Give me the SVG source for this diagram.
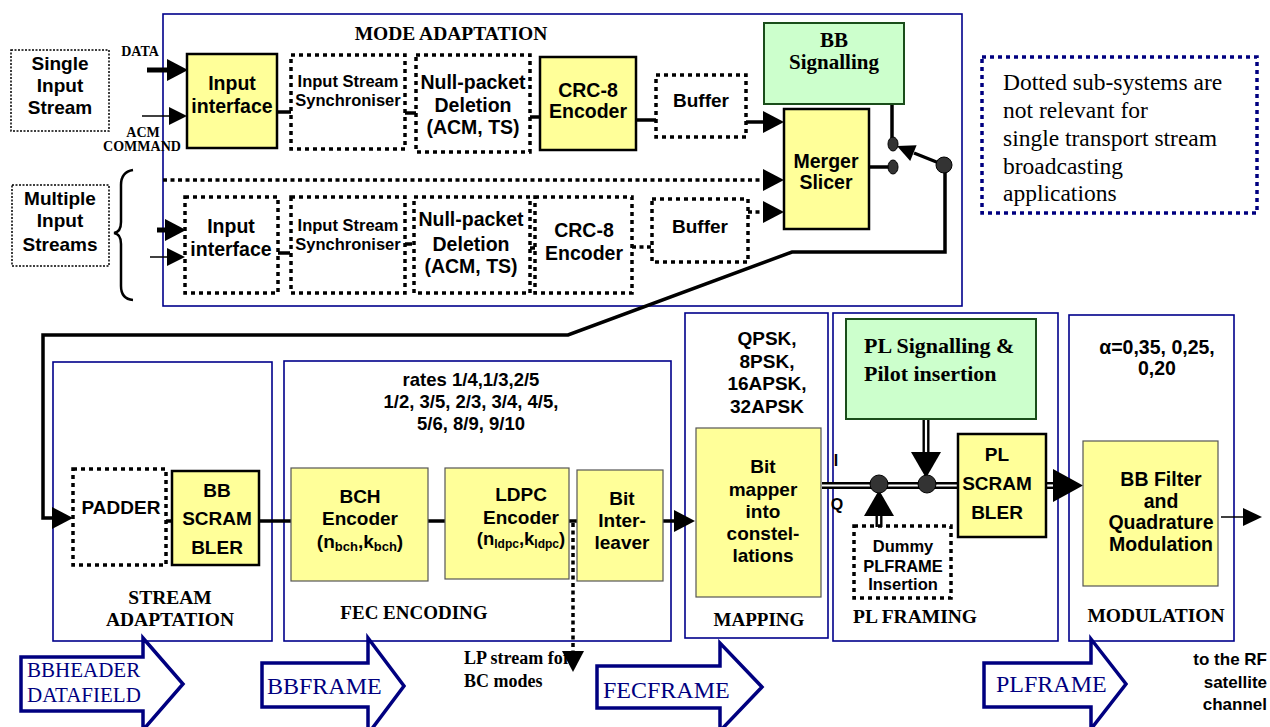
<svg xmlns="http://www.w3.org/2000/svg" width="1270" height="727" viewBox="0 0 1270 727">
<style>
.stage{fill:none;stroke:#00008B;stroke-width:1.6}
.dbox{fill:none;stroke:#000;stroke-width:3.5;stroke-dasharray:4 4}
.sbox{fill:#fff;stroke:#000;stroke-width:1.5;stroke-dasharray:2 1.5}
.yb{fill:#FFFF99;stroke:#000;stroke-width:2.5}
.yt{fill:#FFFF99;stroke:#555;stroke-width:1.2}
.gb{fill:#CCFFCC;stroke:#1a4d1a;stroke-width:2}
.t{font-family:"Liberation Sans",Arial,sans-serif;font-weight:bold;text-anchor:middle;fill:#000}
.e{text-anchor:end}
.s{font-family:"Liberation Serif","Times New Roman",serif;font-weight:bold;fill:#000}
.m{text-anchor:middle}
.big{fill:#fff;stroke:#000080;stroke-width:3.5}
.bigt{font-family:"Liberation Serif","Times New Roman",serif;fill:#000080}
.ln{fill:none;stroke:#000;stroke-width:3.5}
.thin{fill:none;stroke:#000;stroke-width:1.5}
.dl{fill:none;stroke:#000;stroke-width:3.5;stroke-dasharray:4 3.5}
.jd{fill:#333;stroke:#000;stroke-width:1}
</style>
<defs>
<marker id="ah" markerUnits="userSpaceOnUse" markerWidth="21" markerHeight="22" refX="0" refY="11" orient="auto"><path d="M0,0 L21,11 L0,22 z" fill="#000"/></marker>
<marker id="ahs" markerUnits="userSpaceOnUse" markerWidth="18" markerHeight="18" refX="0" refY="9" orient="auto"><path d="M0,0 L18,9 L0,18 z" fill="#000"/></marker>
</defs>
<rect width="1270" height="727" fill="#fff"/>

<g id="stages">
<rect class="stage" x="163" y="14" width="799" height="292"/>
<text class="s m" x="451" y="40" font-size="19.5">MODE ADAPTATION</text>
<rect class="stage" x="53" y="362" width="219" height="279"/>
<text class="s m" x="170" y="604" font-size="19.5">STREAM</text>
<text class="s m" x="170" y="626" font-size="19.5">ADAPTATION</text>
<rect class="stage" x="284" y="361" width="387" height="280"/>
<text class="s m" x="414" y="619" font-size="19">FEC ENCODING</text>
<text class="t" x="471" y="386" font-size="18.5">rates 1/4,1/3,2/5</text>
<text class="t" x="471" y="408" font-size="18.5">1/2, 3/5, 2/3, 3/4, 4/5,</text>
<text class="t" x="471" y="430" font-size="18.5">5/6, 8/9, 9/10</text>
<rect class="stage" x="685" y="313" width="143" height="325"/>
<text class="s m" x="759" y="626" font-size="19">MAPPING</text>
<text class="t" x="767" y="345" font-size="19">QPSK,</text>
<text class="t" x="767" y="368" font-size="19">8PSK,</text>
<text class="t" x="767" y="390" font-size="19">16APSK,</text>
<text class="t" x="767" y="413" font-size="19">32APSK</text>
<rect class="stage" x="833" y="313" width="225" height="328"/>
<text class="s m" x="915" y="623" font-size="19.5">PL FRAMING</text>
<rect class="stage" x="1069" y="315" width="165" height="326"/>
<text class="s m" x="1156" y="622" font-size="19.5">MODULATION</text>
<text class="t" x="1157" y="354" font-size="19.5">α=0,35, 0,25,</text>
<text class="t" x="1157" y="375" font-size="19.5">0,20</text>
</g>

<g id="single-input">
<rect class="sbox" x="11" y="50" width="98" height="81"/>
<text class="t" x="60" y="70" font-size="19">Single</text>
<text class="t" x="60" y="92" font-size="19">Input</text>
<text class="t" x="60" y="114" font-size="19">Stream</text>
</g>
<g id="multiple-input">
<rect class="sbox" x="12" y="185" width="97" height="81"/>
<text class="t" x="60" y="205" font-size="19">Multiple</text>
<text class="t" x="60" y="227" font-size="19">Input</text>
<text class="t" x="60" y="251" font-size="19">Streams</text>
<path d="M133,170 Q121,172 121,185 L121,222 Q121,232 114,233 Q121,234 121,244 L121,286 Q121,299 133,300" fill="none" stroke="#000" stroke-width="2.5"/>
</g>

<g id="labels-in">
<text class="s m" x="140" y="56" font-size="14">DATA</text>
<text class="s m" x="143" y="137" font-size="14">ACM</text>
<text class="s m" x="142" y="151" font-size="14">COMMAND</text>
</g>

<g id="note">
<rect x="982" y="57" width="275" height="156" fill="none" stroke="#000080" stroke-width="3.5" stroke-dasharray="4 4"/>
<text font-family="'Liberation Serif','Times New Roman',serif" font-size="23.5" fill="#000">
<tspan x="1003" y="90">Dotted sub-systems are</tspan>
<tspan x="1003" y="118">not relevant for</tspan>
<tspan x="1003" y="146">single transport stream</tspan>
<tspan x="1003" y="174">broadcasting</tspan>
<tspan x="1003" y="201">applications</tspan>
</text>
</g>

<g id="lp-label">
<text class="s" x="464" y="664" font-size="18">LP stream for</text>
<text class="s" x="464" y="687" font-size="18">BC modes</text>
</g>

<g id="connectors">
<line x1="147" y1="70" x2="167" y2="70" stroke="#000" stroke-width="5" marker-end="url(#ah)"/>
<line class="thin" x1="142" y1="116" x2="169" y2="116" marker-end="url(#ahs)"/>
<line x1="157" y1="230" x2="165" y2="230" stroke="#000" stroke-width="5" marker-end="url(#ah)"/>
<line class="thin" x1="150" y1="257" x2="167" y2="257" marker-end="url(#ahs)"/>
<line class="ln" x1="277" y1="112" x2="291" y2="112" stroke-width="2.5"/>
<line class="ln" x1="405" y1="113" x2="416" y2="113" stroke-width="2.5"/>
<line class="ln" x1="530" y1="117" x2="540" y2="117" stroke-width="2.5"/>
<line class="ln" x1="636" y1="120" x2="656" y2="120" stroke-width="2.5"/>
<line class="ln" x1="746" y1="122" x2="763" y2="122" marker-end="url(#ah)"/>
<line class="dl" x1="163" y1="180" x2="763" y2="180" marker-end="url(#ah)"/>
<line class="ln" x1="278" y1="253" x2="290" y2="253" stroke-width="2.5"/>
<line class="ln" x1="405" y1="244" x2="412" y2="244" stroke-width="2.5"/>
<line class="ln" x1="530" y1="248" x2="535" y2="248" stroke-width="2.5"/>
<line class="dl" x1="632" y1="247" x2="652" y2="247" stroke-dasharray="3 3"/>
<line class="dl" x1="748" y1="212" x2="763" y2="212" stroke-dasharray="3 3" marker-end="url(#ah)"/>
<line class="ln" x1="892" y1="104" x2="892" y2="138" stroke-width="3"/>
<line class="ln" x1="869" y1="167" x2="889" y2="167" stroke-width="3"/>
<line class="ln" x1="944" y1="165" x2="914" y2="153" stroke-width="3"/>
<path d="M897,146 L916.6,145.3 L910.2,161 z" fill="#000"/>
<path class="ln" d="M945,165 V252 H792 L568,335 H43 V518 H52" marker-end="url(#ah)"/>
<ellipse class="jd" cx="893" cy="144" rx="5" ry="7"/>
<ellipse class="jd" cx="893" cy="167" rx="5" ry="7"/>
<circle class="jd" cx="944" cy="165" r="8"/>
<line class="ln" x1="166" y1="521" x2="172" y2="521" stroke-width="4"/>
<line class="ln" x1="259" y1="521" x2="291" y2="521" stroke-width="4"/>
<line class="ln" x1="428" y1="521" x2="445" y2="521" stroke-width="4"/>
<line class="ln" x1="569" y1="521" x2="577" y2="521" stroke-width="4"/>
<line class="ln" x1="663" y1="521" x2="674" y2="521" stroke-width="4" marker-end="url(#ah)"/>
<line class="dl" x1="573" y1="523" x2="573" y2="651" stroke-dasharray="3 3" marker-end="url(#ah)"/>
<line x1="822" y1="485.5" x2="958" y2="485.5" stroke="#000" stroke-width="7"/>
<line x1="822" y1="485.5" x2="958" y2="485.5" stroke="#fff" stroke-width="2.2"/>
<line x1="1046" y1="485.5" x2="1055" y2="485.5" stroke="#000" stroke-width="7"/>
<line x1="1046" y1="485.5" x2="1054" y2="485.5" stroke="#fff" stroke-width="2.2"/>
<path d="M1053,469 L1083,485.5 L1053,502 z" fill="#000"/>
<line x1="926" y1="419" x2="926" y2="454" stroke="#000" stroke-width="7"/>
<line x1="926" y1="419" x2="926" y2="452" stroke="#fff" stroke-width="2.2"/>
<path d="M911,452 L941,452 L926,478 z" fill="#000"/>
<line x1="879" y1="514" x2="879" y2="527" stroke="#000" stroke-width="7"/>
<line x1="879" y1="516" x2="879" y2="527" stroke="#fff" stroke-width="2.2"/>
<path d="M864,516 L894,516 L879,490 z" fill="#000"/>
<circle class="jd" cx="879" cy="484" r="9"/>
<circle class="jd" cx="927" cy="484" r="9"/>
<text class="t" x="836" y="466" font-size="16">I</text>
<text class="t" x="837" y="510" font-size="16">Q</text>
<line class="thin" x1="1221" y1="517" x2="1244" y2="517"/>
<path d="M1243,508 L1262,517 L1243,526 z" fill="#000"/>
</g>

<g id="input-interface">
<rect class="yb" x="187" y="54" width="90" height="94"/>
<text class="t" x="232" y="90" font-size="19.5">Input</text>
<text class="t" x="232" y="113" font-size="19.5">interface</text>
</g>
<g id="input-stream-sync">
<rect class="dbox" x="291" y="55" width="114" height="94"/>
<text class="t" x="348" y="87" font-size="16.5">Input Stream</text>
<text class="t" x="348" y="106" font-size="16.5">Synchroniser</text>
</g>
<g id="null-packet">
<rect class="dbox" x="416" y="55" width="114" height="97"/>
<text class="t" x="473" y="89" font-size="19.5">Null-packet</text>
<text class="t" x="473" y="112" font-size="19.5">Deletion</text>
<text class="t" x="473" y="134" font-size="19.5">(ACM, TS)</text>
</g>
<g id="crc8">
<rect class="yb" x="540" y="57" width="96" height="93"/>
<text class="t" x="588" y="97" font-size="19.5">CRC-8</text>
<text class="t" x="588" y="118" font-size="19.5">Encoder</text>
</g>
<g id="buffer">
<rect class="dbox" x="656" y="75" width="90" height="62"/>
<text class="t" x="701" y="107" font-size="19">Buffer</text>
</g>
<g id="input-interface-2">
<rect class="dbox" x="185" y="197" width="93" height="96"/>
<text class="t" x="231" y="233" font-size="19.5">Input</text>
<text class="t" x="231" y="256" font-size="19.5">interface</text>
</g>
<g id="input-stream-sync-2">
<rect class="dbox" x="291" y="197" width="114" height="96"/>
<text class="t" x="348" y="231" font-size="16.5">Input Stream</text>
<text class="t" x="348" y="250" font-size="16.5">Synchroniser</text>
</g>
<g id="null-packet-2">
<rect class="dbox" x="414" y="197" width="116" height="96"/>
<text class="t" x="471" y="226" font-size="19.5">Null-packet</text>
<text class="t" x="471" y="251" font-size="19.5">Deletion</text>
<text class="t" x="471" y="273" font-size="19.5">(ACM, TS)</text>
</g>
<g id="crc8-2">
<rect class="dbox" x="535" y="197" width="97" height="96"/>
<text class="t" x="584" y="237" font-size="19.5">CRC-8</text>
<text class="t" x="584" y="260" font-size="19.5">Encoder</text>
</g>
<g id="buffer-2">
<rect class="dbox" x="652" y="199" width="96" height="63"/>
<text class="t" x="700" y="233" font-size="19">Buffer</text>
</g>
<g id="bb-signalling">
<rect class="gb" x="764" y="23" width="140" height="81"/>
<text class="s m" x="834" y="47" font-size="21">BB</text>
<text class="s m" x="834" y="69" font-size="21">Signalling</text>
</g>
<g id="merger-slicer">
<rect class="yb" x="784" y="109" width="85" height="120"/>
<text class="t" x="826" y="168" font-size="19.5">Merger</text>
<text class="t" x="826" y="189" font-size="19.5">Slicer</text>
</g>

<g id="padder">
<rect class="dbox" x="73" y="469" width="93" height="96"/>
<text class="t" x="121" y="514" font-size="19">PADDER</text>
</g>
<g id="bb-scrambler">
<rect class="yb" x="172" y="471" width="87" height="94"/>
<text class="t" x="217" y="497" font-size="19">BB</text>
<text class="t" x="217" y="525" font-size="19">SCRAM</text>
<text class="t" x="217" y="554" font-size="19">BLER</text>
</g>
<g id="bch">
<rect class="yt" x="291" y="468" width="137" height="113"/>
<text class="t" x="360" y="503" font-size="19">BCH</text>
<text class="t" x="360" y="525" font-size="19">Encoder</text>
<text class="t" x="360" y="548" font-size="19">(n<tspan font-size="13" dy="3">bch</tspan><tspan dy="-3">,k</tspan><tspan font-size="13" dy="3">bch</tspan><tspan dy="-3">)</tspan></text>
</g>
<g id="ldpc">
<rect class="yt" x="445" y="468" width="124" height="111"/>
<text class="t" x="521" y="501" font-size="19">LDPC</text>
<text class="t" x="521" y="524" font-size="19">Encoder</text>
<text class="t" x="521" y="545" font-size="18.5">(n<tspan font-size="12" dy="3">ldpc</tspan><tspan dy="-3">,k</tspan><tspan font-size="12" dy="3">ldpc</tspan><tspan dy="-3">)</tspan></text>
</g>
<g id="bit-interleaver">
<rect class="yt" x="577" y="470" width="86" height="111"/>
<text class="t" x="622" y="505" font-size="19">Bit</text>
<text class="t" x="622" y="527" font-size="19">Inter-</text>
<text class="t" x="622" y="549" font-size="19">leaver</text>
</g>
<g id="bit-mapper">
<rect class="yt" x="696" y="428" width="125" height="169"/>
<text class="t" x="763" y="473" font-size="19">Bit</text>
<text class="t" x="763" y="496" font-size="19">mapper</text>
<text class="t" x="763" y="518" font-size="19">into</text>
<text class="t" x="763" y="540" font-size="19">constel-</text>
<text class="t" x="763" y="562" font-size="19">lations</text>
</g>
<g id="pl-signalling">
<rect class="gb" x="846" y="319" width="190" height="100"/>
<text class="s" x="864" y="353" font-size="22">PL Signalling &amp;</text>
<text class="s" x="864" y="381" font-size="22">Pilot insertion</text>
</g>
<g id="dummy-plframe">
<rect class="dbox" x="854" y="526" width="97" height="72"/>
<text class="t" x="903" y="552" font-size="16.5">Dummy</text>
<text class="t" x="903" y="572" font-size="16.5">PLFRAME</text>
<text class="t" x="903" y="590" font-size="16.5">Insertion</text>
</g>
<g id="pl-scrambler">
<rect class="yb" x="958" y="434" width="88" height="103"/>
<text class="t" x="997" y="461" font-size="19">PL</text>
<text class="t" x="997" y="490" font-size="19">SCRAM</text>
<text class="t" x="997" y="519" font-size="19">BLER</text>
</g>
<g id="bb-filter">
<rect class="yt" x="1083" y="441" width="135" height="145"/>
<text class="t" x="1161" y="486" font-size="19.5">BB Filter</text>
<text class="t" x="1161" y="508" font-size="19.5">and</text>
<text class="t" x="1161" y="529" font-size="19.5">Quadrature</text>
<text class="t" x="1161" y="551" font-size="19.5">Modulation</text>
</g>
<g id="rf-output">
<text class="t e" x="1267" y="665" font-size="17">to the RF</text>
<text class="t e" x="1267" y="688" font-size="17">satellite</text>
<text class="t e" x="1267" y="710" font-size="17">channel</text>
</g>

<g id="bbheader-arrow">
<polygon class="big" points="21,657 143,657 143,638 183,684 143,730 143,711 21,711"/>
<text class="bigt" x="27" y="677" font-size="21">BBHEADER</text>
<text class="bigt" x="27" y="702" font-size="21">DATAFIELD</text>
</g>
<g id="bbframe-arrow">
<polygon class="big" points="262,663 368,663 368,638 404,686 368,734 368,707 262,707"/>
<text class="bigt" x="267" y="694" font-size="24">BBFRAME</text>
</g>
<g id="fecframe-arrow">
<polygon class="big" points="597,666 720,666 720,643 762,687 720,731 720,708 597,708"/>
<text class="bigt" x="603" y="698" font-size="24">FECFRAME</text>
</g>
<g id="plframe-arrow">
<polygon class="big" points="984,663 1091,663 1091,639 1126,684 1091,729 1091,707 984,707"/>
<text class="bigt" x="996" y="692" font-size="24">PLFRAME</text>
</g>
</svg>
